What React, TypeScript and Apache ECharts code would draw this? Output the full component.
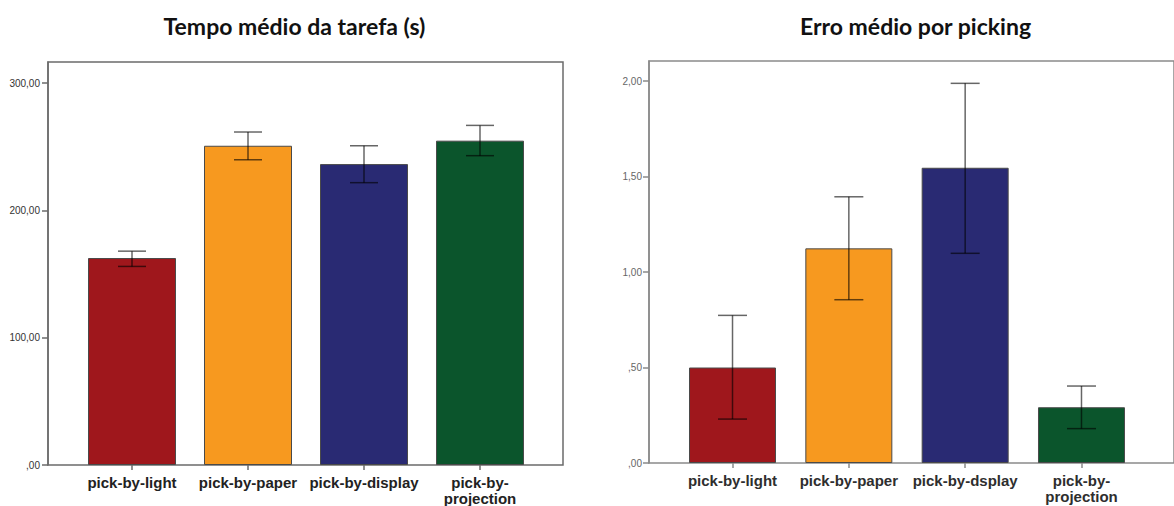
import React, { useEffect, useRef } from "react";
import * as echarts from "echarts";

const categoriesLeft = ["pick-by-light", "pick-by-paper", "pick-by-display", "pick-by-\nprojection"];
const categoriesRight = ["pick-by-light", "pick-by-paper", "pick-by-dsplay", "pick-by-\nprojection"];
const barColors = ["#9F171C", "#F7991F", "#292A73", "#0B552C"];

const timeMeans = [162.6, 250.8, 236.4, 254.8];
const timeLower = [156.0, 239.8, 221.8, 243.0];
const timeUpper = [168.0, 261.6, 250.8, 266.8];

const errorMeans = [0.5, 1.124, 1.546, 0.292];
const errorLower = [0.23, 0.855, 1.098, 0.18];
const errorUpper = [0.773, 1.394, 1.988, 0.403];

const leftTicks = [0, 100, 200, 300];
const rightTicks = [0, 0.5, 1, 1.5, 2];
const leftMax = 316.6;
const rightMax = 2.105;

const titleLeft = "Tempo médio da tarefa (s)";
const titleRight = "Erro médio por picking";

const fmt = (v: number) => {
  const s = v.toFixed(2).replace(".", ",");
  return s.startsWith("0,") ? s.slice(1) : s;
};

export default function App() {
  const ref = useRef<HTMLDivElement>(null);
  useEffect(() => {
    if (!ref.current) return;
    const chart = echarts.init(ref.current, null, { renderer: "svg" });

    const errRender = (capHalf: number) => (params: any, api: any) => {
      const x = api.value(0);
      const lo = api.coord([x, api.value(1)]);
      const hi = api.coord([x, api.value(2)]);
      const style = { stroke: "rgba(0,0,0,0.6)", lineWidth: 1.5 };
      return {
        type: "group",
        children: [
          { type: "line", shape: { x1: hi[0], y1: hi[1], x2: lo[0], y2: lo[1] }, style },
          { type: "line", shape: { x1: hi[0] - capHalf, y1: hi[1], x2: hi[0] + capHalf, y2: hi[1] }, style },
          { type: "line", shape: { x1: lo[0] - capHalf, y1: lo[1], x2: lo[0] + capHalf, y2: lo[1] }, style },
        ],
      };
    };

    const catLabel = {
      color: "#222222",
      fontFamily: "Liberation Sans, Arial, sans-serif",
      fontWeight: "bold" as const,
      fontSize: 15,
      lineHeight: 16,
      margin: 9,
      interval: 0,
    };

    const titleStyle = {
      textAlign: "center",
      textVerticalAlign: "middle",
      fontFamily: "Lato, 'Open Sans', sans-serif",
      fontWeight: "bold",
      fontSize: 23,
      fill: "#111111",
    };

    const option: any = {
      animation: false,
      backgroundColor: "#ffffff",
      grid: [
        { left: 48, top: 62, width: 515, height: 403, show: true, borderColor: "#6b6b6b", borderWidth: 1.5, backgroundColor: "transparent" },
        { left: 74, top: 62, width: 464, height: 403 },
        { left: 649, top: 61, width: 600, height: 402, show: true, borderColor: "#8a8a8a", borderWidth: 1.5, backgroundColor: "transparent" },
        { left: 674.35, top: 61, width: 465.3, height: 402 },
      ],
      xAxis: [
        { gridIndex: 0, type: "value", show: false, min: 0, max: 1 },
        {
          gridIndex: 1,
          type: "category",
          data: categoriesLeft,
          axisLine: { show: false },
          axisTick: { show: true, alignWithLabel: true, length: 5, lineStyle: { color: "#6b6b6b", width: 1.5 } },
          axisLabel: catLabel,
        },
        { gridIndex: 2, type: "value", show: false, min: 0, max: 1 },
        {
          gridIndex: 3,
          type: "category",
          data: categoriesRight,
          axisLine: { show: false },
          axisTick: { show: true, alignWithLabel: true, length: 5, lineStyle: { color: "#8a8a8a", width: 1.5 } },
          axisLabel: { ...catLabel, color: "#2e2e2e" },
        },
      ],
      yAxis: [
        {
          gridIndex: 0,
          type: "value",
          min: 0,
          max: leftMax,
          splitLine: { show: false },
          axisLine: { show: true, lineStyle: { color: "#6b6b6b", width: 1.5 } },
          axisTick: { show: true, length: 6, customValues: leftTicks, lineStyle: { color: "#6b6b6b", width: 1.5 } },
          axisLabel: {
            customValues: leftTicks,
            formatter: fmt,
            color: "#333333",
            fontFamily: "Liberation Sans, Arial, sans-serif",
            fontSize: 10,
            margin: 8,
          },
        },
        { gridIndex: 1, type: "value", min: 0, max: leftMax, show: false },
        {
          gridIndex: 2,
          type: "value",
          min: 0,
          max: rightMax,
          splitLine: { show: false },
          axisLine: { show: true, lineStyle: { color: "#8a8a8a", width: 1.5 } },
          axisTick: { show: true, length: 6, customValues: rightTicks, lineStyle: { color: "#8a8a8a", width: 1.5 } },
          axisLabel: {
            customValues: rightTicks,
            formatter: fmt,
            color: "#666666",
            fontFamily: "Liberation Sans, Arial, sans-serif",
            fontSize: 10,
            margin: 7,
          },
        },
        { gridIndex: 3, type: "value", min: 0, max: rightMax, show: false },
      ],
      series: [
        {
          type: "bar",
          xAxisIndex: 1,
          yAxisIndex: 1,
          barWidth: 88,
          data: timeMeans.map((v, i) => ({ value: v, itemStyle: { color: barColors[i] } })),
          itemStyle: { borderColor: "#4a4a4a", borderWidth: 1 },
        },
        {
          type: "custom",
          xAxisIndex: 1,
          yAxisIndex: 1,
          renderItem: errRender(14),
          data: timeMeans.map((_, i) => [i, timeLower[i], timeUpper[i]]),
          z: 5,
        },
        {
          type: "bar",
          xAxisIndex: 3,
          yAxisIndex: 3,
          barWidth: 87,
          data: errorMeans.map((v, i) => ({ value: v, itemStyle: { color: barColors[i] } })),
          itemStyle: { borderColor: "#4a4a4a", borderWidth: 1 },
        },
        {
          type: "custom",
          xAxisIndex: 3,
          yAxisIndex: 3,
          renderItem: errRender(14.5),
          data: errorMeans.map((_, i) => [i, errorLower[i], errorUpper[i]]),
          z: 5,
        },
      ],
      graphic: [
        { type: "text", x: 294.5, y: 26, style: { ...titleStyle, text: titleLeft } },
        { type: "text", x: 915.5, y: 26, style: { ...titleStyle, text: titleRight } },
      ],
    };
    chart.setOption(option);
    return () => chart.dispose();
  }, []);

  return (
    <div
      ref={ref}
      style={{ position: "fixed", left: 0, top: 0, width: 1174, height: 506, background: "#fff" }}
    />
  );
}
